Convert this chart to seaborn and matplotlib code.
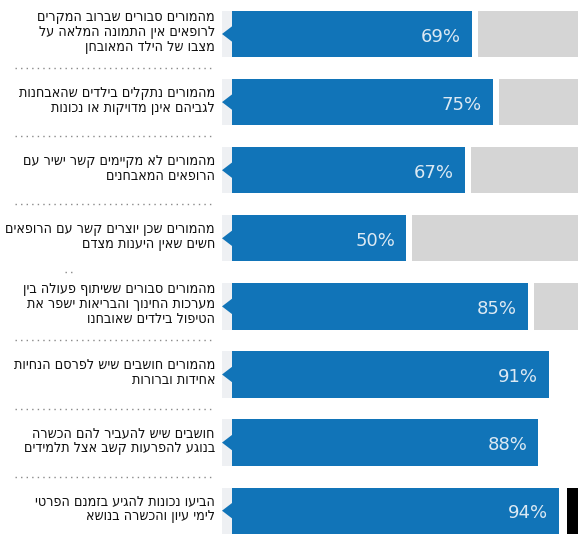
import matplotlib
matplotlib.use("Agg")
import matplotlib.pyplot as plt
import matplotlib.transforms as mtransforms
import seaborn as sns
import pandas as pd

# ---- data ----
labels = [
    ["מהמורים סבורים שברוב המקרים", "לרופאים אין התמונה המלאה על", "מצבו של הילד המאובחן"],
    ["מהמורים נתקלים בילדים שהאבחנות", "לגביהם אינן מדויקות או נכונות"],
    ["מהמורים לא מקיימים קשר ישיר עם", "הרופאים המאבחנים"],
    ["מהמורים שכן יוצרים קשר עם הרופאים", "חשים שאין היענות מצדם"],
    ["מהמורים סבורים ששיתוף פעולה בין", "מערכות החינוך והבריאות ישפר את", "הטיפול בילדים שאובחנו"],
    ["מהמורים חושבים שיש לפרסם הנחיות", "אחידות וברורות"],
    ["חושבים שיש להעביר להם הכשרה", "בנוגע להפרעות קשב אצל תלמידים"],
    ["הביעו נכונות להגיע בזמנם הפרטי", "לימי עיון והכשרה בנושא"],
]
values = [69, 75, 67, 50, 85, 91, 88, 94]
pct_labels = ["69%", "75%", "67%", "50%", "85%", "91%", "88%", "94%"]
rest_colors = ["#d5d5d5", "#d5d5d5", "#d5d5d5", "#d5d5d5", "#d5d5d5", None, None, "#000000"]

BLUE = "#1174b8"
W, H, DPI = 578, 536, 100

sns.set_style("white")
plt.rcParams["font.family"] = ["DejaVu Sans"]

fig = plt.figure(figsize=(W / DPI, H / DPI), dpi=DPI)
fig.patch.set_facecolor("white")

# axes: 0% at x=232px, 3.48 px per %
x0 = 232
pxpp = 3.48
first_c, step = 34, 68.1
ytop = -first_c / step
ybot = (H - first_c) / step
ax = fig.add_axes([x0 / W, 0, 100 * pxpp / W, 1])
ax.set_xlim(0, 100)
ax.set_ylim(ybot, ytop)

n = len(values)
df = pd.DataFrame({"row": [str(i) for i in range(n)], "value": values})

# faint shade strip left of each bar
shade_w = 10 / pxpp
ax.barh(range(n), [shade_w] * n, left=-shade_w, height=0.68, color="#eef0f3",
        linewidth=0, clip_on=False)

# remainder bars
gap = 1.7
for i, (v, c) in enumerate(zip(values, rest_colors)):
    if c is None:
        continue
    start = v + gap if c != "#000000" else v + 2.3
    ax.barh(i, 100 - start, left=start, height=0.68, color=c, linewidth=0)

sns.barplot(data=df, x="value", y="row", orient="h", color=BLUE, width=0.68,
            saturation=1, ax=ax, linewidth=0, order=df["row"].tolist())
ax.set_xlim(0, 100)
ax.set_ylim(ybot, ytop)

# notch triangles at left of each bar
tip = -10 / pxpp
hh = 9 / step
for i in range(n):
    ax.fill([0.5, tip, 0.5], [i - hh, i, i + hh], color=BLUE, lw=0, clip_on=False)

# percentage labels
off = -11 / pxpp
for i, (v, t) in enumerate(zip(values, pct_labels)):
    ax.text(v + off, i + 0.04, t, ha="right", va="center", color="#dce9f3",
            fontsize=13)

# Hebrew labels (reverse for visual RTL order)
trans = mtransforms.blended_transform_factory(fig.transFigure, ax.transData)
for i, lines in enumerate(labels):
    txt = "\n".join(l[::-1] for l in lines)
    ax.text(215 / W, i - 0.03, txt, transform=trans, ha="right", va="center",
            multialignment="right", fontsize=10.3, fontstretch="condensed",
            color="#101010", linespacing=1.1, clip_on=False)

# dotted separators
for i in range(n - 1):
    if i == 3:
        xs = [65 / W, 73 / W]
    else:
        xs = [15 / W, 214 / W]
    ax.plot(xs, [i + 0.5, i + 0.5], transform=trans, color="#8a8a8a",
            lw=1, ls=(0, (1, 3)), clip_on=False)

ax.axis("off")
fig.savefig("out.png", dpi=DPI, facecolor="white")
